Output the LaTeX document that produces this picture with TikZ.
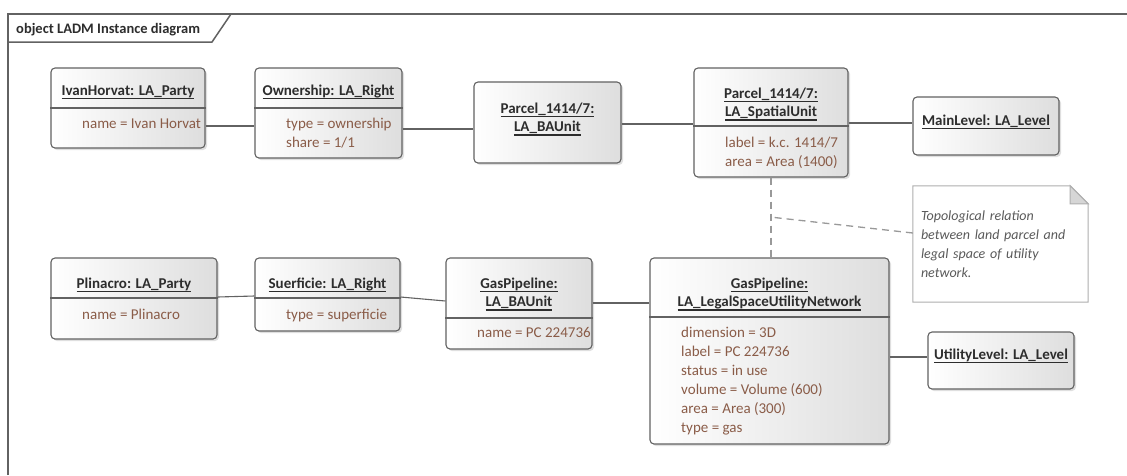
\documentclass[tikz,border=0pt]{standalone}
\usepackage{fontspec}
\setmainfont{Carlito}
\usetikzlibrary{shadows}

\definecolor{edgegray}{RGB}{98,98,98}
\definecolor{titlegray}{RGB}{45,45,45}
\definecolor{attrbrown}{RGB}{138,92,72}
\definecolor{notegray}{RGB}{90,90,90}
\definecolor{noteline}{RGB}{175,175,175}
\definecolor{notefold}{RGB}{214,214,214}

% underlined object name
\newcommand{\objname}[1]{\setbox0\hbox{#1}\strut\rlap{\rule[-4pt]{\wd0}{1.2pt}}\box0}

\begin{document}
\begin{tikzpicture}[x=1pt,y=-1pt,
      object node/.style={draw=edgegray,line width=1.1pt,rounded corners=4pt,
      left color=white,right color=black!13,inner sep=0pt,
      drop shadow={shadow xshift=2pt,shadow yshift=-2pt,opacity=.25}},
      title text/.style={font=\bfseries\fontsize{15}{18.5}\selectfont,
      text=titlegray,align=center,inner sep=0pt,anchor=north},
      attr text/.style={font=\fontsize{15}{19}\selectfont,
      text=attrbrown,align=left,inner sep=0pt,anchor=north west},
      note node/.style={minimum width=175,minimum height=116,text width=159,
      inner xsep=8pt,align=left,font=\itshape\fontsize{14}{19}\selectfont,text=notegray},
      link/.style={draw=edgegray,line width=1.1pt},
      dash link/.style={draw=black!40,line width=1.3pt,dash pattern=on 7pt off 5pt},
      frame line/.style={draw=edgegray,line width=1.5pt}]

      \fill[white] (0,0) rectangle (1127,475);
      \useasboundingbox (0,0) rectangle (1127,475);

      %% diagram frame and its name tab
      \draw[frame line] (8,475) -- (8,14) -- (1127,14);
      \draw[frame line] (8,42) -- (212,42) -- (231,14);
      \node[font=\bfseries\fontsize{14.5}{18}\selectfont,text=titlegray,
            anchor=base west,inner sep=0pt] (frametitle) at (16,33)
            {object LADM Instance diagram};

      %% THE OBJECT BOXES
      \node[object node,minimum width=154,minimum height=80] (ivan) at (128,108) {};
      \node[object node,minimum width=147,minimum height=90] (own) at (328.5,113) {};
      \node[object node,minimum width=147,minimum height=81] (parcelba) at (547.5,122.5) {};
      \node[object node,minimum width=154,minimum height=109] (parcelsu) at (771,122.5) {};
      \node[object node,minimum width=146,minimum height=58] (mainlvl) at (986,126) {};
      \node[object node,minimum width=166,minimum height=81] (plinacro) at (134,298.5) {};
      \node[object node,minimum width=145,minimum height=73] (suerf) at (327.5,294.5) {};
      \node[object node,minimum width=146,minimum height=91] (gasba) at (519,303.5) {};
      \node[object node,minimum width=239,minimum height=186] (legal) at (769.5,351) {};
      \node[object node,minimum width=146,minimum height=57] (utillvl) at (1001,360.5) {};

      %% compartment lines
      \draw[link] (ivan.west |- 0,108) -- (ivan.east |- 0,108);
      \draw[link] (own.west |- 0,108) -- (own.east |- 0,108);
      \draw[link] (parcelsu.west |- 0,126) -- (parcelsu.east |- 0,126);
      \draw[link] (plinacro.west |- 0,298) -- (plinacro.east |- 0,298);
      \draw[link] (suerf.west |- 0,298) -- (suerf.east |- 0,298);
      \draw[link] (gasba.west |- 0,318) -- (gasba.east |- 0,318);
      \draw[link] (legal.west |- 0,317) -- (legal.east |- 0,317);

      %% names
      \node[title text] (ivan-t) at (128,82) {\objname{IvanHorvat: LA\_Party}};
      \node[title text] (own-t) at (328.5,82) {\objname{Ownership: LA\_Right}};
      \node[title text] (parcelba-t) at (547.5,100)
            {\objname{Parcel\_1414/7:}\\\objname{LA\_BAUnit}};
      \node[title text] (parcelsu-t) at (771,85)
            {\objname{Parcel\_1414/7:}\\\objname{LA\_SpatialUnit}};
      \node[title text] (mainlvl-t) at (986,112) {\objname{MainLevel: LA\_Level}};
      \node[title text] (plinacro-t) at (134,275) {\objname{Plinacro: LA\_Party}};
      \node[title text] (suerf-t) at (327.5,275) {\objname{Suerficie: LA\_Right}};
      \node[title text] (gasba-t) at (519,275)
            {\objname{GasPipeline:}\\\objname{LA\_BAUnit}};
      \node[title text] (legal-t) at (769.5,275)
            {\objname{GasPipeline:}\\\objname{LA\_LegalSpaceUtilityNetwork}};
      \node[title text] (utillvl-t) at (1001,346) {\objname{UtilityLevel: LA\_Level}};

      %% attribute values
      \node[attr text] (ivan-a) at (82,115) {\strut name = Ivan Horvat};
      \node[attr text] (own-a) at (286,115) {\strut type = ownership\\share = 1/1};
      \node[attr text] (parcelsu-a) at (725,134) {\strut label = k.c. 1414/7\\area = Area (1400)};
      \node[attr text] (plinacro-a) at (82,306) {\strut name = Plinacro};
      \node[attr text] (suerf-a) at (286,306) {\strut type = superficie};
      \node[attr text] (gasba-a) at (477,324) {\strut name = PC 224736};
      \node[attr text] (legal-a) at (681,324) {\strut dimension = 3D\\label = PC 224736\\
            status = in use\\volume = Volume (600)\\area = Area (300)\\type = gas};

      %% the note
      \node[note node] (note) at (1000.5,244)
            {Topological relation\\between land parcel and\\legal space of utility\\network.};
      \draw[draw=noteline,line width=1pt] (note.north west) -- ([xshift=-18pt]note.north east)
            -- ([yshift=-18pt]note.north east) -- (note.south east) -- (note.south west) -- cycle;
      \filldraw[fill=notefold,draw=noteline,line width=1pt] ([xshift=-18pt]note.north east)
            -- ([xshift=-18pt,yshift=-18pt]note.north east) -- ([yshift=-18pt]note.north east) -- cycle;

      %% LINKS
      \draw[link] (ivan.east |- 0,126) -- (own.west |- 0,126);
      \draw[link] (own.east |- 0,129) -- (parcelba.west |- 0,129);
      \draw[link] (parcelba.east |- 0,124) -- (parcelsu.west |- 0,124);
      \draw[link] (parcelsu.east |- 0,123) -- (mainlvl.west |- 0,123);
      \draw[link] (plinacro.east |- 0,297) -- (suerf.west |- 0,296);
      \draw[link] (suerf.east |- 0,297) -- (gasba.west |- 0,301);
      \draw[link] (gasba.east |- 0,303) -- (legal.west |- 0,303);
      \draw[link] (legal.east |- 0,357) -- (utillvl.west |- 0,357);

      \coordinate (notejoin) at (770,217);
      \draw[dash link] (parcelsu.south) -- (parcelsu.south |- legal.north);
      \draw[dash link] (note.west |- 0,233) -- (notejoin);
\end{tikzpicture}
\end{document}
